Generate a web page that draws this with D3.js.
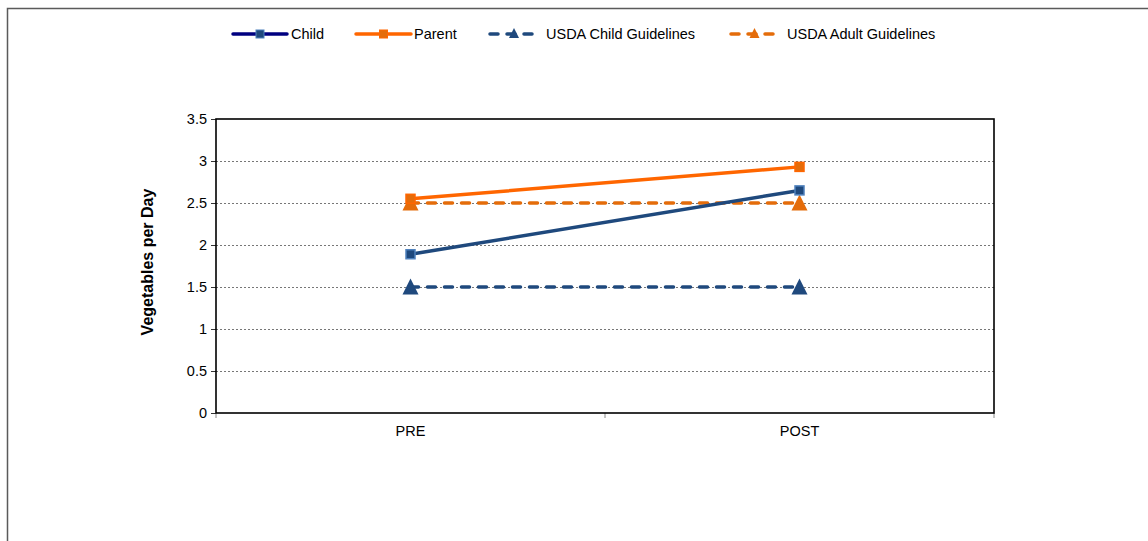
<!DOCTYPE html>
<html><head><meta charset="utf-8">
<script src="https://cdn.jsdelivr.net/npm/d3@7"></script>
<style>body{margin:0;background:#fff}svg{display:block;font-family:"Liberation Sans",Arial,sans-serif}</style>
</head><body>
<svg id="c" width="1148" height="541"></svg>
<script>
const categories = ["PRE", "POST"];
const childValues = [1.89, 2.65];
const parentValues = [2.55, 2.93];
const usdaChild = [1.5, 1.5];
const usdaAdult = [2.5, 2.5];
const yTicks = [0, 0.5, 1, 1.5, 2, 2.5, 3, 3.5];
const seriesNames = ["Child", "Parent", "USDA Child Guidelines", "USDA Adult Guidelines"];

const svg = d3.select("#c");
const W = 1148, H = 541;
const m = {left: 216, right: 994, top: 119, bottom: 413};
const FS = 14.5;

// outer border
svg.append("path").attr("d", `M7.5,${H}V8.5H${W}`).attr("fill","none").attr("stroke","#5a5a5a").attr("stroke-width",1.5);

const x = d3.scaleBand().domain(categories).range([m.left, m.right]);
const y = d3.scaleLinear().domain([0, 3.5]).range([m.bottom, m.top]);
const cx = d => x(d) + x.bandwidth()/2;

// gridlines
svg.append("g").selectAll("line").data(yTicks.filter(t => t > 0 && t < 3.5)).join("line")
  .attr("x1", m.left).attr("x2", m.right).attr("y1", d => y(d)+0.5).attr("y2", d => y(d)+0.5)
  .attr("stroke", "#777").attr("stroke-width", 1).attr("stroke-dasharray", "2,2");

// y axis
const yAxis = d3.axisLeft(y).tickValues(yTicks).tickSize(5).tickPadding(4).tickFormat(d => String(d));
const gy = svg.append("g").attr("transform", `translate(${m.left},0)`).call(yAxis);
gy.select(".domain").remove();
gy.selectAll(".tick line").attr("stroke", "#333");
gy.selectAll("text").attr("font-size", FS).attr("fill", "#000").attr("font-family", "Liberation Sans, Arial, sans-serif");

// x axis
const xAxis = d3.axisBottom(x).tickSize(0).tickPadding(13);
const gx = svg.append("g").attr("transform", `translate(0,${m.bottom})`).call(xAxis);
gx.select(".domain").remove();
gx.selectAll("text").attr("font-size", FS).attr("fill", "#000").attr("font-family", "Liberation Sans, Arial, sans-serif");
// category boundary ticks
const bounds = [m.left, ...categories.slice(1).map(c => x(c)), m.right];
svg.append("g").selectAll("line").data(bounds).join("line")
  .attr("x1", d => d).attr("x2", d => d).attr("y1", m.bottom).attr("y2", m.bottom + 5)
  .attr("stroke", "#888").attr("stroke-width", 1);

// plot box
svg.append("rect").attr("x", m.left).attr("y", m.top).attr("width", m.right - m.left).attr("height", m.bottom - m.top)
  .attr("fill", "none").attr("stroke", "#000").attr("stroke-width", 1.6);

// y title
svg.append("text").attr("transform", `translate(153,${(m.top+m.bottom)/2 - 4}) rotate(-90)`)
  .attr("text-anchor", "middle").attr("font-size", 16).attr("font-weight", "bold").text("Vegetables per Day");

const line = d3.line().x((d,i) => cx(categories[i])).y(d => y(d));
const blue = "#1F497D", orange = "#FF6600", orangeM = "#E46C0A";

function drawSeries(vals, color, dashed, marker, mfill, mstroke) {
  svg.append("path").datum(vals).attr("d", line).attr("fill", "none").attr("stroke", color)
    .attr("stroke-width", 3.5).attr("stroke-linecap", "round")
    .attr("stroke-dasharray", dashed ? "8,9" : null);
  const g = svg.append("g");
  vals.forEach((v, i) => {
    const px = cx(categories[i]), py = y(v);
    if (marker === "square") {
      g.append("rect").attr("x", px - 4.5).attr("y", py - 4.5).attr("width", 9).attr("height", 9)
        .attr("fill", mfill).attr("stroke", mstroke).attr("stroke-width", 1.5);
    } else {
      g.append("path").attr("d", `M${px},${py-8.5}L${px+8},${py+7.5}L${px-8},${py+7.5}Z`).attr("fill", mfill);
    }
  });
}
drawSeries(usdaAdult, orangeM, true, "tri", orangeM);
drawSeries(usdaChild, blue, true, "tri", blue);
drawSeries(parentValues, orange, false, "square", orangeM, orange);
drawSeries(childValues, blue, false, "square", blue, "#4F81BD");

// legend
const legend = [
  {name: seriesNames[0], x1: 233, x2: 287, tx: 291, color: "#000080", dashed: false, marker: "square", mfill: blue, mstroke: "#4F81BD"},
  {name: seriesNames[1], x1: 356, x2: 411, tx: 414, color: orange, dashed: false, marker: "square", mfill: orangeM, mstroke: orange},
  {name: seriesNames[2], x1: 490, x2: 538, tx: 546, color: blue, dashed: true, marker: "tri", mfill: blue},
  {name: seriesNames[3], x1: 731, x2: 778, tx: 787, color: orangeM, dashed: true, marker: "tri", mfill: orangeM}
];
const ly = 34;
legend.forEach(l => {
  const g = svg.append("g");
  g.append("line").attr("x1", l.x1).attr("x2", l.x2).attr("y1", ly).attr("y2", ly).attr("stroke", l.color)
    .attr("stroke-width", 3.5).attr("stroke-linecap", "round").attr("stroke-dasharray", l.dashed ? "8,9" : null);
  const mx = (l.x1 + l.x2)/2;
  if (l.marker === "square") {
    g.append("rect").attr("x", mx - 4).attr("y", ly - 4).attr("width", 8).attr("height", 8)
      .attr("fill", l.mfill).attr("stroke", l.mstroke).attr("stroke-width", 1);
  } else {
    g.append("path").attr("d", `M${mx},${ly-6}L${mx+5},${ly+4}L${mx-5},${ly+4}Z`).attr("fill", l.mfill);
  }
  g.append("text").attr("x", l.tx).attr("y", ly + 5).attr("font-size", FS).attr("fill", "#000").text(l.name);
});
</script>
</body></html>
